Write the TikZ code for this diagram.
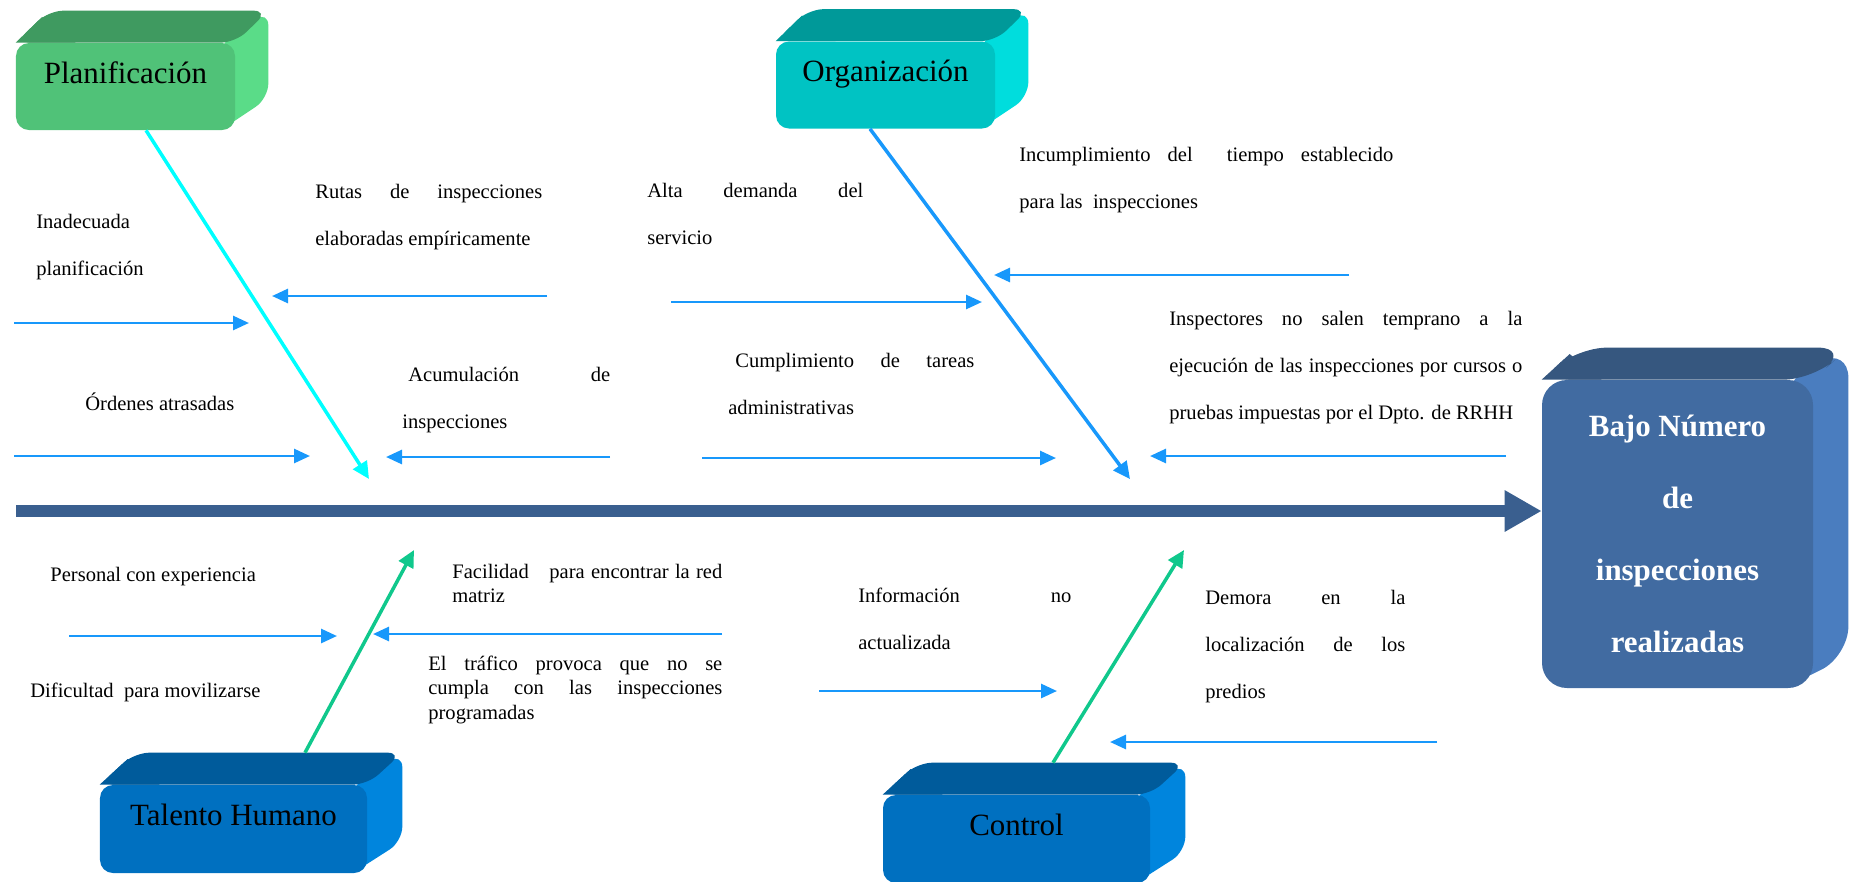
\documentclass[tikz,border=0pt]{standalone}
\usepackage{fontspec}
\setmainfont{Liberation Serif}
\usetikzlibrary{arrows.meta,backgrounds,calc}

\definecolor{effectfront}{HTML}{416BA1}
\definecolor{effecttop}{HTML}{36577F}
\definecolor{effectside}{HTML}{4A7DBF}
\definecolor{spinecol}{HTML}{3A5F8F}
\definecolor{planfront}{HTML}{50C278}
\definecolor{plantop}{HTML}{3F9A60}
\definecolor{planside}{HTML}{5ADC88}
\definecolor{orgfront}{HTML}{00C3C3}
\definecolor{orgtop}{HTML}{009999}
\definecolor{orgside}{HTML}{00DDDD}
\definecolor{bluefront}{HTML}{0070C0}
\definecolor{bluetop}{HTML}{005B9B}
\definecolor{blueside}{HTML}{0085DD}
\definecolor{causeblue}{HTML}{1898FB}
\definecolor{bonecyan}{HTML}{00FFFF}
\definecolor{bonegreen}{HTML}{10C88C}

\tikzset{
  effectbox/.style={rounded corners=5mm, fill=effectfront, minimum width=54.2mm,
    minimum height=61.6mm, inner sep=0pt, align=center, text=white,
    font=\fontsize{17.6}{41}\selectfont\bfseries},
  catbox/.style={rounded corners=2.6mm, minimum height=17.4mm, inner sep=0pt,
    text height=4.5mm, text depth=5.8mm, font=\fontsize{17.6}{21}\selectfont},
  spine/.style={draw=spinecol, line width=2.4mm, -{Triangle[length=7.4mm,width=7.8mm]}},
  bone/.style={line width=0.7mm, -{Triangle[length=3.4mm,width=3.2mm]}},
  causearrow/.style={draw=causeblue, line width=0.55mm, -{Triangle[length=3.2mm,width=2.8mm]}},
  causetext/.style={anchor=base west, inner sep=0pt, font=\fontsize{11.7}{27}\selectfont},
  causetight/.style={causetext, font=\fontsize{11.7}{14.2}\selectfont},
}

% top and side faces behind a front node: node, top, side, dx, dy, radius
\newcommand{\boxfaces}[6]{%
  \begin{scope}[on background layer]
    \fill[#3, rounded corners=#6]
      ([xshift=-#6]#1.north east) -- ([shift={(#4,#5)}]#1.north east)
      -- ([shift={(#4,#5)}]#1.south east) -- ([xshift=-#6]#1.south east) -- cycle;
    \fill[#2, rounded corners=#6]
      (#1.north west) -- ([shift={(#4,#5)}]#1.north west)
      -- ([shift={(#4,#5)}]#1.north east) -- (#1.north east) -- cycle;
    \fill[#2] (#1.north west)
      -- ($(#1.north west)!0.8!([shift={(#4,#5)}]#1.north west)$)
      -- ([xshift=12mm]#1.north west) -- cycle;
  \end{scope}}

\begin{document}
\begin{tikzpicture}[x=0.2mm,y=-0.2mm]
  \useasboundingbox (0,0) rectangle (1856,881);

  % effect and spine
  \node[effectbox] (effect) at (1677.5,534) {Bajo Número\\de\\inspecciones\\realizadas};
  \boxfaces{effect}{effecttop}{effectside}{7mm}{6.4mm}{6mm}
  \coordinate (spinestart) at (16,511);
  \draw[spine] (spinestart) -- (spinestart -| effect.west);

  % categories
  \node[catbox, fill=planfront, minimum width=43.8mm] (plan) at (125.5,86.5) {Planificación};
  \boxfaces{plan}{plantop}{planside}{6.6mm}{6.4mm}{3mm}
  \node[catbox, fill=orgfront, minimum width=43.8mm] (org) at (885.5,85) {Organización};
  \boxfaces{org}{orgtop}{orgside}{6.6mm}{6.4mm}{3mm}
  \node[catbox, fill=bluefront, minimum width=53.4mm, minimum height=17.6mm] (talento) at (233.5,829) {Talento Humano};
  \boxfaces{talento}{bluetop}{blueside}{7mm}{6.4mm}{3mm}
  \node[catbox, fill=bluefront, minimum width=53.4mm, minimum height=17.6mm] (control) at (1016.5,839) {Control};
  \boxfaces{control}{bluetop}{blueside}{7mm}{6.4mm}{3mm}

  % bones
  \coordinate (planend) at (369,479);
  \coordinate (orgend) at (1130,479);
  \coordinate (talentoend) at (414,550);
  \coordinate (controlend) at (1184,550);
  \draw[bone, draw=bonecyan] ([xshift=4.1mm]plan.south) -- (planend);
  \draw[bone, draw=causeblue] ([xshift=-3.1mm]org.south) -- (orgend);
  \draw[bone, draw=bonegreen] ([shift={(14.3mm,6.4mm)}]talento.north) -- (talentoend);
  \draw[bone, draw=bonegreen] ([shift={(7.3mm,6.4mm)}]control.north) -- (controlend);

  % causes
  \foreach \n/\xa/\xb/\y in {inad/14/249/323, rutas/547/272/296, orden/14/310/456,
      acum/610/386/457, alta/671/982/302, incum/1349/994/275, tareas/702/1056/458,
      insp/1506/1150/456, pers/69/337/636, facil/722/373/634, info/819/1057/691,
      demora/1437/1110/742}
  {
    \coordinate (\n-a) at (\xa,\y);
    \coordinate (\n-b) at (\xb,\y);
    \draw[causearrow] (\n-a) -- (\n-b);
  }

  \node[causetext] (inadtxt) at (36,228) {\parbox[t]{40mm}{Inadecuada\\planificación}};
  \node[causetext] (rutastxt) at (315,198) {\parbox[t]{45.4mm}{\makebox[\linewidth][s]{Rutas de inspecciones}\\elaboradas empíricamente}};
  \node[causetext] (altatxt) at (647,197) {\parbox[t]{43.2mm}{\makebox[\linewidth][s]{Alta demanda del}\\servicio}};
  \node[causetext] (incumtxt) at (1019,161) {\parbox[t]{74.8mm}{\makebox[\linewidth][s]{Incumplimiento del\ \ tiempo establecido}\\para las\ \ inspecciones}};
  \node[causetext] (ordentxt) at (85,410) {Órdenes atrasadas};
  \node[causetext] (acumtxt) at (402,381) {\parbox[t]{41.6mm}{\makebox[\linewidth][s]{\hspace*{1.2mm}Acumulación de}\\inspecciones}};
  \node[causetext] (tareastxt) at (728,367) {\parbox[t]{49.2mm}{\makebox[\linewidth][s]{\hspace*{1.4mm}Cumplimiento de tareas}\\administrativas}};
  \node[causetext] (insptxt) at (1169,325) {\parbox[t]{70.6mm}{\makebox[\linewidth][s]{Inspectores no salen temprano a la}\\\makebox[\linewidth][s]{ejecución de las inspecciones por cursos o}\\pruebas impuestas por el Dpto. de RRHH}};
  \node[causetext] (perstxt) at (50,581) {Personal con experiencia};
  \node[causetight] (faciltxt) at (452,578) {\parbox[t]{54mm}{\makebox[\linewidth][s]{Facilidad\quad para encontrar la red}\\matriz}};
  \node[causetext] (difictxt) at (30,697) {Dificultad\ \ para movilizarse};
  \node[causetight] (trafictxt) at (428,670) {\parbox[t]{58.8mm}{\makebox[\linewidth][s]{El tráfico provoca que no se}\\\makebox[\linewidth][s]{cumpla con las inspecciones}\\programadas}};
  \node[causetext] (infotxt) at (858,602) {\parbox[t]{42.6mm}{\makebox[\linewidth][s]{Información no}\\actualizada}};
  \node[causetext] (demoratxt) at (1205,604) {\parbox[t]{40mm}{\makebox[\linewidth][s]{Demora en la}\\\makebox[\linewidth][s]{localización de los}\\predios}};
\end{tikzpicture}
\end{document}
